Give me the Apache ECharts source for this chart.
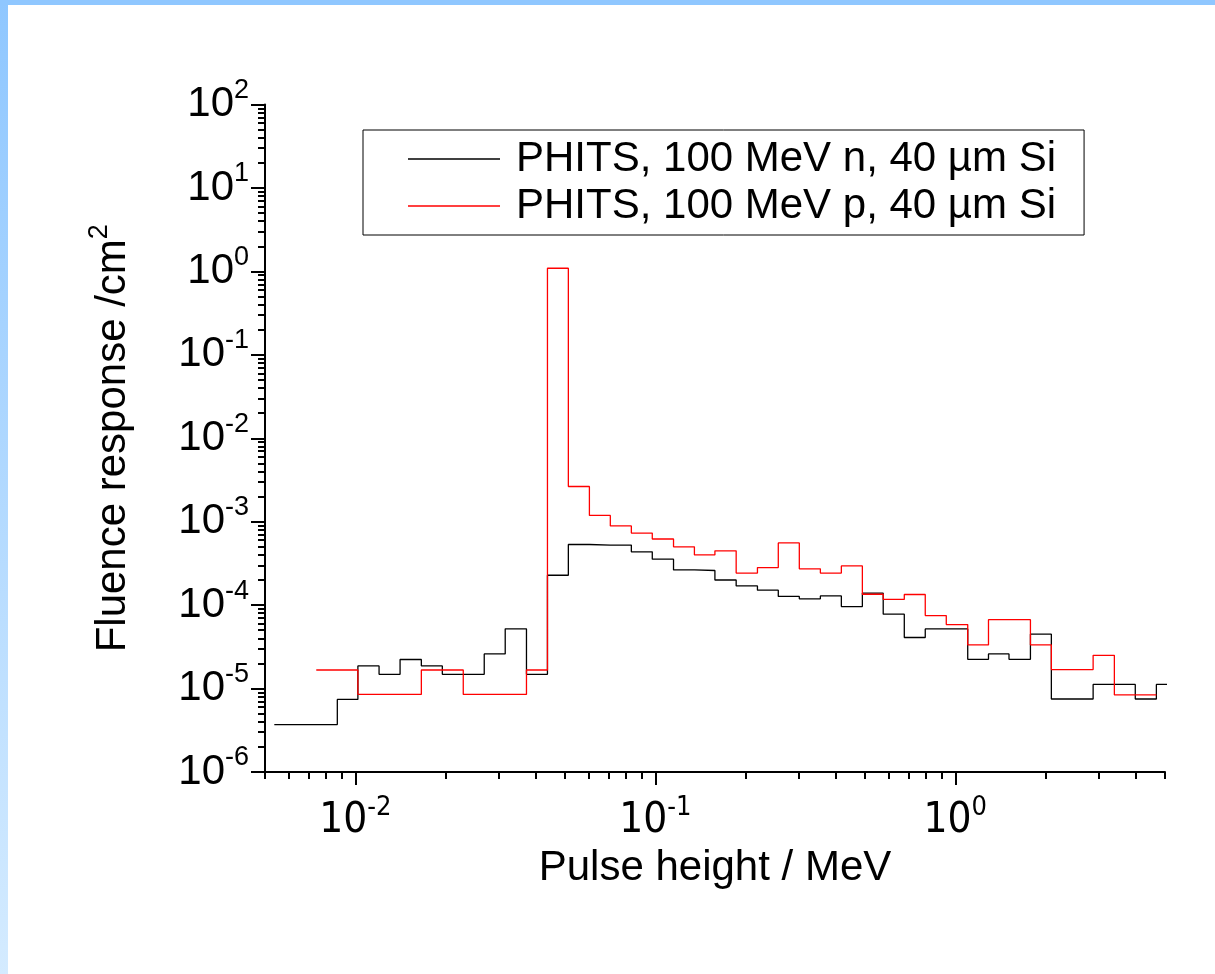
<!DOCTYPE html>
<html>
<head>
<meta charset="utf-8">
<script src="https://cdn.jsdelivr.net/npm/echarts@6/dist/echarts.min.js"></script>
<style>
  html, body { margin: 0; padding: 0; background: #fff; }
  #chart { width: 1215px; height: 974px; }
</style>
</head>
<body>
<div id="chart"></div>
<script>
// bin edges in MeV (log spaced)
const binEdges = [
  0.00537, 0.00631, 0.00741, 0.00871, 0.0102, 0.0120, 0.0141, 0.0166, 0.0195, 0.0229,
  0.0269, 0.0316, 0.0372, 0.0437, 0.0513, 0.0603, 0.0708, 0.0832, 0.0977, 0.115,
  0.135, 0.158, 0.186, 0.219, 0.257, 0.302, 0.355, 0.417, 0.490, 0.575,
  0.676, 0.794, 0.933, 1.10, 1.29, 1.51, 1.78, 2.09, 2.45, 2.88,
  3.39, 3.98, 4.68, 5.50
];

// PHITS, 100 MeV n (one value per bin)
const neutronValues = [
  3.7e-6, 3.7e-6, 3.7e-6, 7.4e-6, 1.87e-5, 1.48e-5, 2.23e-5, 1.87e-5, 1.48e-5, 1.48e-5,
  2.6e-5, 5.2e-5, 1.48e-5, 2.28e-4, 5.33e-4, 5.25e-4, 5.25e-4, 4.35e-4, 3.55e-4, 2.64e-4,
  2.6e-4, 2.0e-4, 1.7e-4, 1.51e-4, 1.27e-4, 1.19e-4, 1.29e-4, 9.6e-5, 1.39e-4, 7.8e-5,
  4.09e-5, 5.19e-5, 5.19e-5, 2.24e-5, 2.6e-5, 2.24e-5, 4.48e-5, 7.5e-6, 7.5e-6, 1.12e-5,
  1.12e-5, 7.5e-6, 1.12e-5
];

// PHITS, 100 MeV p (null = no bin drawn)
const protonValues = [
  null, null, 1.67e-5, 1.67e-5, 8.5e-6, 8.5e-6, 8.5e-6, 1.67e-5, 1.67e-5, 8.5e-6,
  8.5e-6, 8.5e-6, 1.67e-5, 1.09, 2.64e-3, 1.19e-3, 8.9e-4, 7.3e-4, 6.2e-4, 5.0e-4,
  4.0e-4, 4.47e-4, 2.42e-4, 2.82e-4, 5.57e-4, 2.72e-4, 2.42e-4, 2.95e-4, 1.35e-4, 1.17e-4,
  1.34e-4, 7.5e-5, 5.85e-5, 3.33e-5, 6.7e-5, 6.7e-5, 3.33e-5, 1.69e-5, 1.69e-5, 2.5e-5,
  8.4e-6, 8.4e-6
];

const seriesNames = ['PHITS, 100 MeV n, 40 µm Si', 'PHITS, 100 MeV p, 40 µm Si'];

// tick labels
const xMajorTicks = [0.01, 0.1, 1];
const yMajorTicks = [1e-6, 1e-5, 1e-4, 1e-3, 1e-2, 1e-1, 1, 10, 100];

// minor ticks 2..9 inside each decade
function minorTicks(lo, hi) {
  const out = [];
  for (let e = -8; e <= 3; e++) {
    for (let m = 2; m <= 9; m++) {
      const v = m * Math.pow(10, e);
      if (v >= lo * 0.999 && v <= hi * 1.001) out.push(v);
    }
  }
  return out;
}

// histogram -> step points: left edge of every bin, plus right edge of the last one
function toSteps(values) {
  const pts = [];
  let last = -1;
  values.forEach((v, i) => {
    if (v == null) return;
    pts.push([binEdges[i], v]);
    last = i;
  });
  pts.push([binEdges[last + 1], values[last]]);
  return pts;
}

const FONT = '"Liberation Sans", Arial, sans-serif';
const NARROW = '"Liberation Sans Narrow", "Arial Narrow", "DejaVu Sans Condensed", "Liberation Sans", sans-serif';

function powLabel(family) {
  return {
    formatter: (value) => '{b|10}{s|' + Math.round(Math.log10(value)) + '}',
    rich: {
      b: { fontSize: 42, fontFamily: family, color: '#000' },
      s: { fontSize: 27, fontFamily: family, color: '#000', padding: [0, 0, 28, 0] }
    }
  };
}

const chart = echarts.init(document.getElementById('chart'));

const option = {
  animation: false,
  backgroundColor: '#fff',
  graphic: [
    {
      type: 'rect',
      shape: { x: 0, y: 0, width: 8, height: 974 },
      style: {
        fill: new echarts.graphic.LinearGradient(0, 0, 0, 1, [
          { offset: 0, color: '#8fc7ff' },
          { offset: 1, color: '#d4ebff' }
        ])
      },
      silent: true
    },
    {
      type: 'rect',
      shape: { x: 0, y: 0, width: 1215, height: 5 },
      style: { fill: '#8fc7ff' },
      silent: true
    }
  ],
  grid: {
    left: 265,
    right: 50,
    top: 104.5,
    bottom: 202,
    outerBoundsMode: 'none'
  },
  legend: {
    orient: 'vertical',
    left: 363,
    top: 130,
    padding: [8, 28, 8, 45],
    icon: 'path://M0,0 L92,0 L92,1.3 L0,1.3 Z',
    itemWidth: 92,
    itemHeight: 1.3,
    itemGap: 5,
    borderColor: '#000',
    borderWidth: 1,
    textStyle: { fontSize: 42, fontFamily: FONT, color: '#000', padding: [0, 0, 0, 11] },
    data: seriesNames
  },
  xAxis: [
    {
      type: 'log',
      min: 0.005,
      max: 5,
      name: 'Pulse height / MeV',
      nameLocation: 'middle',
      nameGap: 66,
      nameTextStyle: { fontSize: 42, fontFamily: FONT, color: '#000' },
      axisLine: { lineStyle: { color: '#000', width: 2 } },
      axisTick: { customValues: xMajorTicks, length: 13, lineStyle: { color: '#000', width: 2 } },
      axisLabel: Object.assign({ customValues: xMajorTicks, margin: 22 }, powLabel(NARROW)),
      splitLine: { show: false },
      minorTick: { show: false }
    },
    {
      type: 'log',
      min: 0.005,
      max: 5,
      position: 'bottom',
      axisLine: { show: false },
      axisTick: { customValues: minorTicks(0.005, 5), length: 7, lineStyle: { color: '#000', width: 2 } },
      axisLabel: { show: false },
      splitLine: { show: false }
    }
  ],
  yAxis: [
    {
      type: 'log',
      min: 1e-6,
      max: 100,
      name: '{a|Fluence response /cm}{s|2}',
      nameLocation: 'middle',
      nameGap: 124,
      nameTextStyle: {
        rich: {
          a: { fontSize: 42, fontFamily: FONT, color: '#000' },
          s: { fontSize: 27, fontFamily: FONT, color: '#000', padding: [0, 0, 28, 0] }
        }
      },
      axisLine: { lineStyle: { color: '#000', width: 2 } },
      axisTick: { customValues: yMajorTicks, length: 14, lineStyle: { color: '#000', width: 2 } },
      axisLabel: Object.assign({ customValues: yMajorTicks, margin: 16 }, powLabel(FONT)),
      splitLine: { show: false },
      minorTick: { show: false }
    },
    {
      type: 'log',
      min: 1e-6,
      max: 100,
      position: 'left',
      axisLine: { show: false },
      axisTick: { customValues: minorTicks(1e-6, 100), length: 7, lineStyle: { color: '#000', width: 2 } },
      axisLabel: { show: false },
      splitLine: { show: false }
    }
  ],
  series: [
    {
      name: seriesNames[0],
      type: 'line',
      step: 'end',
      symbol: 'none',
      xAxisIndex: 0,
      yAxisIndex: 0,
      color: '#000',
      lineStyle: { color: '#000', width: 1.3 },
      data: toSteps(neutronValues)
    },
    {
      name: seriesNames[1],
      type: 'line',
      step: 'end',
      symbol: 'none',
      xAxisIndex: 0,
      yAxisIndex: 0,
      color: '#ff0000',
      lineStyle: { color: '#ff0000', width: 1.3 },
      data: toSteps(protonValues)
    }
  ]
};

chart.setOption(option);
</script>
</body>
</html>
